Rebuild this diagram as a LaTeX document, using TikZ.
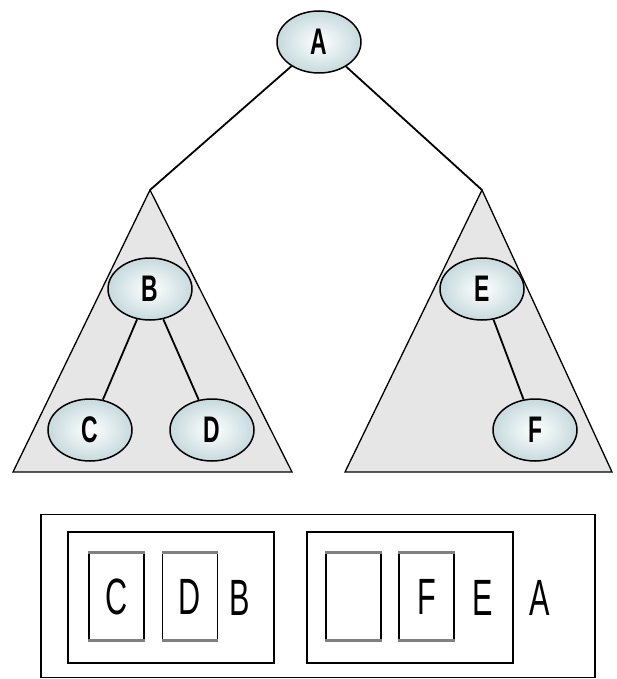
\documentclass[tikz,border=0pt]{standalone}
\usepackage{fontspec}
\setmainfont{Liberation Sans}
\usetikzlibrary{shapes.geometric}
\definecolor{ellfill}{RGB}{198,218,222}
\definecolor{trifill}{RGB}{230,230,230}
\pgfdeclarelayer{background}
\pgfdeclarelayer{edgelayer}
\pgfsetlayers{background,edgelayer,main}
\begin{document}
\begin{tikzpicture}[x=1pt,y=-1pt,
  treenode/.style={ellipse,draw=black,line width=1.5pt,minimum width=84pt,minimum height=62pt,inner sep=0pt,
    inner color=white,outer color=ellfill,
    font=\fontsize{37}{37}\selectfont\bfseries},
  edge/.style={line width=1.8pt},
  tri/.style={draw=black,line width=1.3pt,fill=trifill},
  cell/.style={draw=black,line width=1.3pt,minimum width=55pt,minimum height=87pt,inner sep=0pt,
    font=\fontsize{51}{51}\selectfont},
  grp/.style={draw=black,line width=1.5pt,minimum width=206pt,minimum height=131pt,inner sep=0pt},
  lab/.style={font=\fontsize{51}{51}\selectfont,inner sep=0pt},
  grayedge/.style={draw=gray,line width=3pt}]
\useasboundingbox (0,0) rectangle (617,679);
% nodes
\node[treenode] (A) at (319,42) {\scalebox{0.62}[1]{A}};
\node[treenode] (B) at (150,289) {\scalebox{0.62}[1]{B}};
\node[treenode] (C) at (90,430) {\scalebox{0.62}[1]{C}};
\node[treenode] (D) at (212,430) {\scalebox{0.62}[1]{D}};
\node[treenode] (E) at (482,289) {\scalebox{0.62}[1]{E}};
\node[treenode] (F) at (535,430) {\scalebox{0.62}[1]{F}};
% triangle apexes
\coordinate (tl) at (150,190);
\coordinate (tr) at (482,190);
\begin{pgfonlayer}{background}
\draw[tri] (tl) -- (292,472) -- (13,472) -- cycle;
\draw[tri] (tr) -- (612,472) -- (345,472) -- cycle;
\end{pgfonlayer}
% edges
\begin{pgfonlayer}{edgelayer}
\draw[edge] (A) -- (tl);
\draw[edge] (A) -- (tr);
\draw[edge] (B) -- (C);
\draw[edge] (B) -- (D);
\draw[edge] (E) -- (F);
\end{pgfonlayer}
% bottom layout
\node[draw=black,line width=1.8pt,minimum width=554pt,minimum height=163pt,inner sep=0pt] (outer) at (318,596) {};
\node[grp] (g1) at (171,597.5) {};
\node[grp] (g2) at (410,597.5) {};
\node[cell] (c1) at (116.5,596.5) {\scalebox{0.6}[1]{C}};
\node[cell] (c2) at (190,596.5) {\scalebox{0.6}[1]{D}};
\node[cell] (c3) at (353.5,596.5) {};
\node[cell] (c4) at (426.5,596.5) {\scalebox{0.6}[1]{F}};
\foreach \c in {c1,c2,c3,c4}{
  \draw[grayedge] (\c.north west) -- (\c.north east);
  \draw[grayedge] (\c.south west) -- (\c.south east);
}
\node[lab] (lb) at (240,598) {\scalebox{0.6}[1]{B}};
\node[lab] (le) at (483,598) {\scalebox{0.6}[1]{E}};
\node[lab] (la) at (540,598) {\scalebox{0.6}[1]{A}};
\end{tikzpicture}
\end{document}
